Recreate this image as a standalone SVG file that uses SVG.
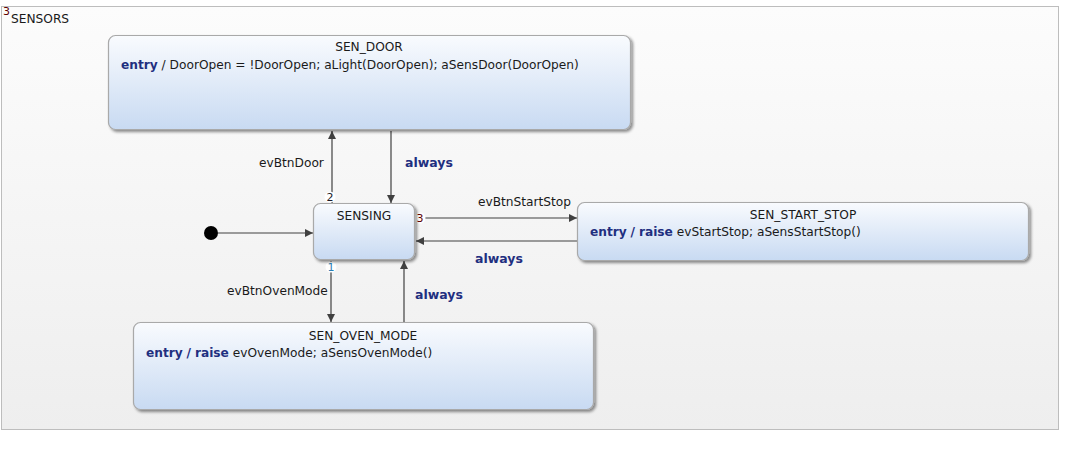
<svg xmlns="http://www.w3.org/2000/svg" width="1068" height="452" viewBox="0 0 1068 452">
<defs>
<linearGradient id="frameG" x1="0" y1="0" x2="0" y2="1">
<stop offset="0" stop-color="#fcfcfc"/><stop offset="1" stop-color="#eeeeee"/>
</linearGradient>
<linearGradient id="nodeG" x1="0" y1="0" x2="0" y2="1">
<stop offset="0" stop-color="#f9fbfe"/><stop offset="1" stop-color="#c8daf2"/>
</linearGradient>
<filter id="sh" x="-5%" y="-5%" width="110%" height="130%">
<feGaussianBlur in="SourceAlpha" stdDeviation="1.5"/>
<feOffset dx="2" dy="2" result="b"/>
<feComponentTransfer><feFuncA type="linear" slope="0.45"/></feComponentTransfer>
<feMerge><feMergeNode/><feMergeNode in="SourceGraphic"/></feMerge>
</filter>
<marker id="arr" viewBox="0 0 10 10" refX="10" refY="5" markerWidth="10" markerHeight="8" markerUnits="userSpaceOnUse" orient="auto">
<path d="M0,0 L10,5 L0,10 z" fill="#404040"/>
</marker>
</defs>
<style>
text{font-family:"DejaVu Sans","Verdana",sans-serif;font-size:12.2px;fill:#1a1a1a}
.st{fill:url(#nodeG);stroke:#a9a9a9;stroke-width:1.2;filter:url(#sh)}
.kw{font-weight:bold;fill:#1f2f80}
.al{font-weight:bold;fill:#1f2f80;font-size:12.5px}
.ln{fill:none;stroke:#404040;stroke-width:1.2;marker-end:url(#arr)}
.num{font-size:11px}
</style>
<rect x="1.5" y="6.5" width="1057" height="423" fill="url(#frameG)" stroke="#bdbdbd"/>
<text x="3" y="15" class="num" style="fill:#600000">3</text>
<text x="11" y="23">SENSORS</text>

<g id="connectors">
<line class="ln" x1="218" y1="233" x2="313" y2="233"/>
<line class="ln" x1="332" y1="203" x2="332" y2="131"/>
<line class="ln" x1="391" y1="131" x2="391" y2="203"/>
<line class="ln" x1="415" y1="218" x2="577" y2="218"/>
<line class="ln" x1="577" y1="241" x2="416" y2="241"/>
<line class="ln" x1="331" y1="261" x2="331" y2="322"/>
<line class="ln" x1="404" y1="322" x2="404" y2="261"/>
<text x="259" y="167">evBtnDoor</text>
<text x="405" y="167" class="al">always</text>
<text x="478" y="206">evBtnStartStop</text>
<text x="475" y="263" class="al">always</text>
<text x="227" y="295">evBtnOvenMode</text>
<text x="415" y="299" class="al">always</text>
<circle cx="330" cy="197" r="5.5" fill="#fff"/>
<text x="330" y="201" class="num" text-anchor="middle" style="fill:#1a1a2a">2</text>
<circle cx="420" cy="218" r="5.5" fill="#fff"/>
<text x="420" y="222" class="num" text-anchor="middle" style="fill:#600000">3</text>
<circle cx="331" cy="267" r="5.5" fill="#fff"/>
<text x="331" y="271" class="num" text-anchor="middle" style="fill:#2a7fb5">1</text>
</g>

<g id="initial">
<circle cx="211" cy="233" r="7" fill="#000"/>
</g>

<g id="SEN_DOOR">
<rect class="st" x="108.5" y="35.5" width="522" height="94" rx="7"/>
<text x="369" y="51" text-anchor="middle">SEN_DOOR</text>
<text x="121" y="69"><tspan class="kw">entry</tspan> / DoorOpen = !DoorOpen; aLight(DoorOpen); aSensDoor(DoorOpen)</text>
</g>

<g id="SENSING">
<rect class="st" x="313.5" y="203.5" width="101" height="56" rx="7"/>
<text x="364" y="220" text-anchor="middle">SENSING</text>
</g>

<g id="SEN_START_STOP">
<rect class="st" x="577.5" y="202.5" width="451" height="58" rx="7"/>
<text x="803" y="219" text-anchor="middle">SEN_START_STOP</text>
<text x="590" y="236"><tspan class="kw">entry</tspan> <tspan class="kw">/</tspan> <tspan class="kw">raise</tspan> evStartStop; aSensStartStop()</text>
</g>

<g id="SEN_OVEN_MODE">
<rect class="st" x="133.5" y="322.5" width="460" height="87" rx="7"/>
<text x="363" y="340" text-anchor="middle">SEN_OVEN_MODE</text>
<text x="146" y="357"><tspan class="kw">entry</tspan> <tspan class="kw">/</tspan> <tspan class="kw">raise</tspan> evOvenMode; aSensOvenMode()</text>
</g>
</svg>
